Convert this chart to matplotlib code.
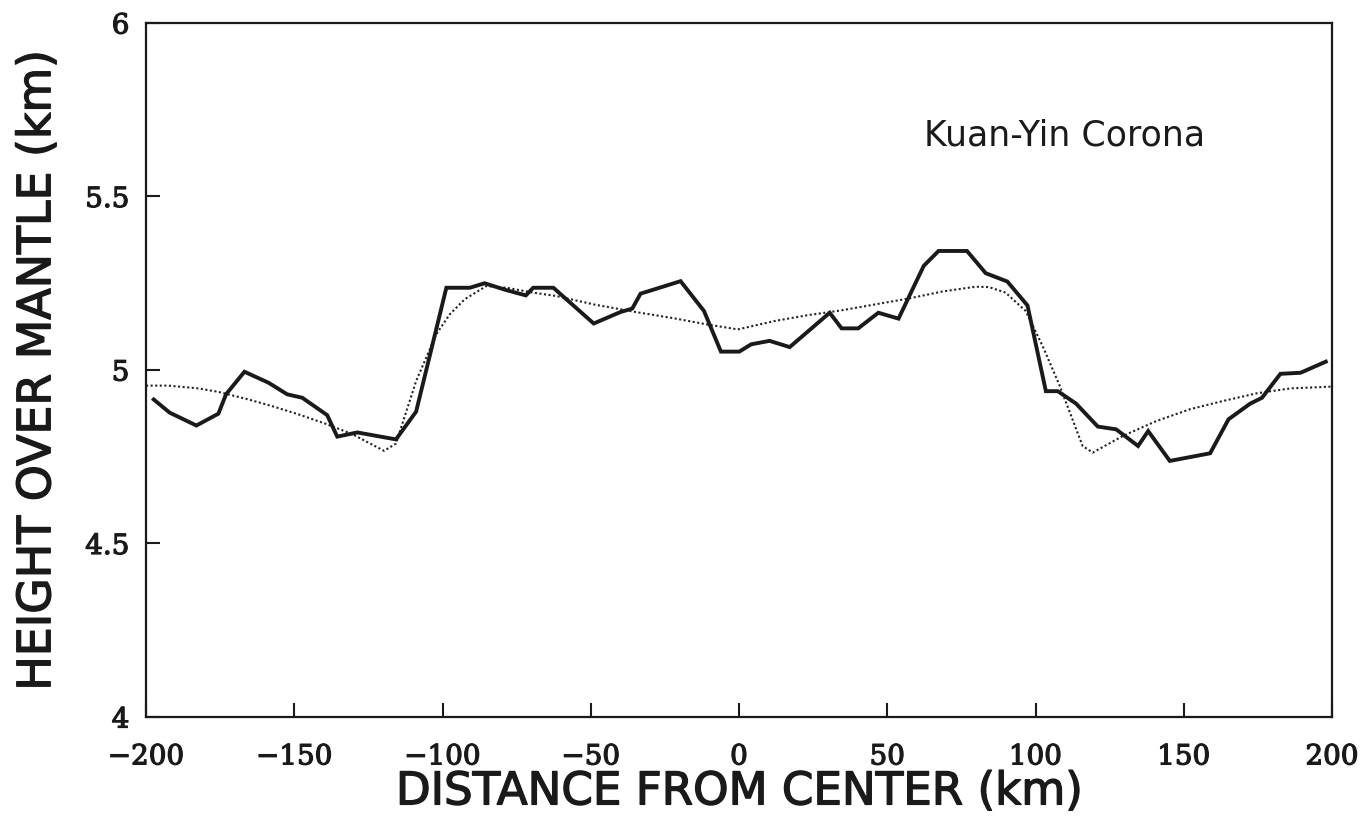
import matplotlib
matplotlib.use("Agg")
import matplotlib.pyplot as plt
import matplotlib.patheffects as pe

# Observed profile (solid)
obs_x = [-197.4, -192, -183, -175.6, -173, -166.8, -158.6, -152.4, -147.3, -138.9,
         -135.5, -128.7, -115.7, -108.9, -98.7, -90.8, -85.8, -78.4, -71.9, -69.4,
         -62.6, -49.0, -40.0, -36.0, -33.2, -19.7, -11.8, -6.1, 0.1, 4.1,
         10.3, 17.1, 30.6, 34.6, 40.2, 47.0, 53.8, 62.3, 67.3, 76.9,
         83.2, 90.5, 97.3, 103.5, 107.5, 113.7, 121.0, 127.2, 134.6, 138.0,
         145.3, 158.9, 165.1, 172.4, 176.4, 182.6, 189.4, 197.9]
obs_y = [4.915, 4.877, 4.84, 4.874, 4.93, 4.995, 4.963, 4.93, 4.92, 4.87,
         4.808, 4.82, 4.80, 4.88, 5.237, 5.237, 5.25, 5.23, 5.215, 5.237,
         5.237, 5.134, 5.167, 5.177, 5.22, 5.256, 5.17, 5.053, 5.053, 5.074,
         5.084, 5.066, 5.165, 5.12, 5.12, 5.165, 5.148, 5.30, 5.343, 5.343,
         5.279, 5.255, 5.186, 4.939, 4.939, 4.903, 4.837, 4.829, 4.781, 4.824,
         4.738, 4.76, 4.858, 4.903, 4.92, 4.989, 4.992, 5.024]

# Model fit (dotted)
fit_x = [-200, -192.5, -182.4, -175.6, -165.4, -157.5, -148.5, -139.4, -130.4, -119.7,
         -115.7, -108.9, -102.1, -97.6, -92.5, -85.2, -78.4, -69.4, -61.5, -49.0,
         -35.5, -21.9, -10.6, -0.4, 11.9, 23.2, 34.6, 45.9, 57.2, 68.5,
         79.8, 84.3, 89.9, 96.7, 102.4, 108.0, 115.9, 119.3, 129.5, 140.8,
         152.1, 163.4, 174.7, 186.0, 199.6]
fit_y = [4.955, 4.955, 4.947, 4.937, 4.915, 4.896, 4.872, 4.845, 4.815, 4.767,
         4.788, 4.968, 5.103, 5.16, 5.204, 5.242, 5.237, 5.223, 5.213, 5.189,
         5.168, 5.149, 5.131, 5.117, 5.141, 5.158, 5.172, 5.189, 5.206, 5.226,
         5.24, 5.239, 5.223, 5.17, 5.069, 4.958, 4.781, 4.762, 4.81, 4.853,
         4.887, 4.911, 4.933, 4.947, 4.952]

x_ticks = [-200, -150, -100, -50, 0, 50, 100, 150, 200]
x_tick_labels = ["\u2212200", "\u2212150", "\u2212100", "\u221250", "0", "50", "100", "150", "200"]
y_ticks = [4, 4.5, 5, 5.5, 6]
y_tick_labels = ["4", "4.5", "5", "5.5", "6"]

title_text = "Kuan-Yin Corona"
xlabel_text = "DISTANCE FROM CENTER (km)"
ylabel_text = "HEIGHT OVER MANTLE (km)"

ink = "#1a1a1a"

fig = plt.figure(figsize=(13.66, 8.22), dpi=100)
ax = fig.add_axes([146/1366, 1 - 717/822, (1332-146)/1366, (717-23)/822])

ax.plot(fit_x, fit_y, color="#222222", lw=1.5, linestyle=(0, (1, 1.2)))
ax.plot(obs_x, obs_y, color=ink, lw=2.8, solid_joinstyle="miter")

ax.set_xlim(-200, 200)
ax.set_ylim(4, 6)
ax.set_xticks(x_ticks)
ax.set_xticklabels(x_tick_labels)
ax.set_yticks(y_ticks)
ax.set_yticklabels(y_tick_labels)

for t in ax.get_xticklabels() + ax.get_yticklabels():
    t.set_fontfamily("DejaVu Serif")
    t.set_fontsize(20)
    t.set_color(ink)
    t.set_path_effects([pe.withStroke(linewidth=0.9, foreground=ink)])

ax.tick_params(axis="both", direction="in", length=10, width=1.5, color=ink)
ax.tick_params(axis="x", pad=19)
ax.tick_params(axis="y", pad=12)

for s in ax.spines.values():
    s.set_linewidth(1.6)
    s.set_color(ink)

medium = [pe.withStroke(linewidth=1.0, foreground=ink)]
ax.set_xlabel(xlabel_text, family="DejaVu Sans", fontsize=32.5,
              color=ink, labelpad=0, path_effects=medium)
ax.set_ylabel(ylabel_text, family="DejaVu Sans", fontsize=33,
              color=ink, labelpad=18, path_effects=medium)

ax.text((1205-146)/1186, (717-136)/694, title_text, transform=ax.transAxes,
        ha="right", va="center", family="DejaVu Sans", fontsize=25, color=ink)

fig.savefig("out.png", dpi=100)
